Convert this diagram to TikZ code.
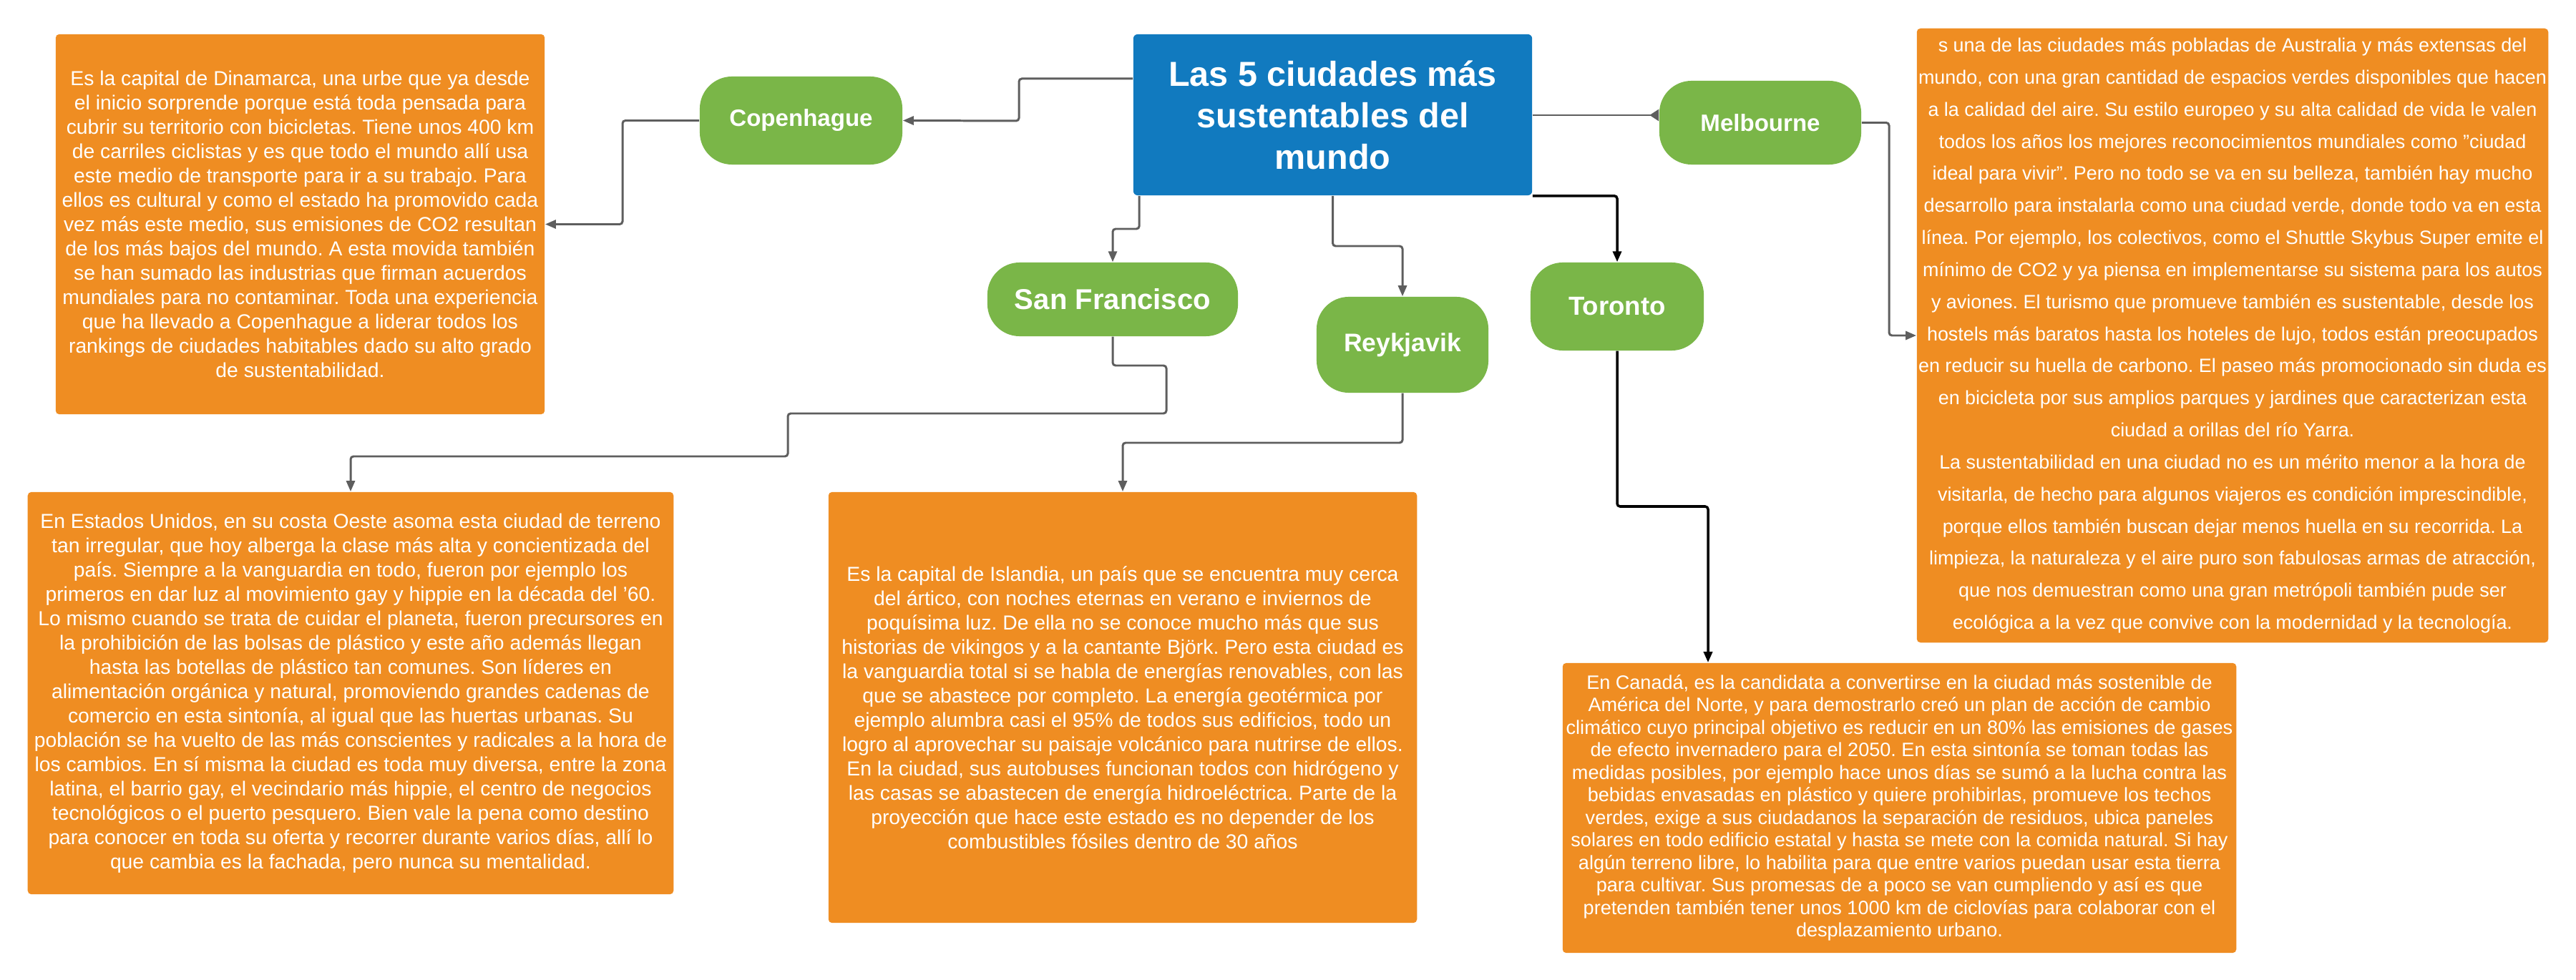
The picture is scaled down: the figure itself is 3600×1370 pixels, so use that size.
\documentclass[tikz,border=0pt]{standalone}
\usepackage{fontspec}
\setmainfont{Liberation Sans}
\usetikzlibrary{arrows.meta}
\frenchspacing

\definecolor{boxorange}{RGB}{239,141,34}
\definecolor{citygreen}{RGB}{122,182,72}
\definecolor{titleblue}{RGB}{17,122,191}
\definecolor{linkgray}{RGB}{94,94,94}

\tikzset{
  textbox/.style={fill=boxorange, rounded corners=0.05cm, text=white, align=center,
    inner sep=0pt, font=\fontsize{8.05}{9.67}\selectfont},
  city/.style={fill=citygreen, rounded corners=0.45cm, text=white, inner sep=0pt},
  link/.style={draw=linkgray, line width=0.85pt, rounded corners=0.04cm,
    -{Triangle[length=0.15cm,width=0.12cm]}},
}

\begin{document}
\begin{tikzpicture}[x=0.01cm,y=-0.01cm]
\useasboundingbox (0,0) rectangle (3600,1370);
\fill[white] (0,0) rectangle (3600,1370);

% central topic
\node[fill=titleblue, rounded corners=0.06cm, text=white, align=center, inner sep=0pt,
  minimum width=5.57cm, minimum height=2.25cm,
  font=\bfseries\fontsize{13.8}{16.5}\selectfont] (title) at (1862.5,160.5)
  {Las 5 ciudades más\\sustentables del\\mundo};

% cities
\node[city, minimum width=2.83cm, minimum height=1.23cm,
  font=\bfseries\fontsize{9.4}{11}\selectfont] (cph) at (1119.5,168.5) {Copenhague};
\node[city, minimum width=2.82cm, minimum height=1.17cm,
  font=\bfseries\fontsize{9.4}{11}\selectfont] (mel) at (2460,171.5) {Melbourne};
\node[city, minimum width=3.50cm, minimum height=1.03cm,
  font=\bfseries\fontsize{11.4}{13}\selectfont] (sfo) at (1555,418.5) {San Francisco};
\node[city, minimum width=2.40cm, minimum height=1.34cm,
  font=\bfseries\fontsize{10.1}{12}\selectfont] (rey) at (1960,482) {Reykjavik};
\node[city, minimum width=2.42cm, minimum height=1.23cm,
  font=\bfseries\fontsize{10.4}{12}\selectfont] (tor) at (2260,428.5) {Toronto};

% descriptions
\node[textbox, minimum width=6.83cm, minimum height=5.31cm] (cphtxt) at (419.5,313.5)
  {Es la capital de Dinamarca, una urbe que ya desde\\
   el inicio sorprende porque está toda pensada para\\
   cubrir su territorio con bicicletas. Tiene unos 400 km\\
   de carriles ciclistas y es que todo el mundo allí usa\\
   este medio de transporte para ir a su trabajo. Para\\
   ellos es cultural y como el estado ha promovido cada\\
   vez más este medio, sus emisiones de CO2 resultan\\
   de los más bajos del mundo. A esta movida también\\
   se han sumado las industrias que firman acuerdos\\
   mundiales para no contaminar. Toda una experiencia\\
   que ha llevado a Copenhague a liderar todos los\\
   rankings de ciudades habitables dado su alto grado\\
   de sustentabilidad.};

\node[textbox, minimum width=8.82cm, minimum height=8.58cm,
  font=\fontsize{7.65}{12.75}\selectfont] (meltxt) at (3120,469)
  {s una de las ciudades más pobladas de Australia y más extensas del\\
   mundo, con una gran cantidad de espacios verdes disponibles que hacen\\
   a la calidad del aire. Su estilo europeo y su alta calidad de vida le valen\\
   todos los años los mejores reconocimientos mundiales como "ciudad\\
   ideal para vivir". Pero no todo se va en su belleza, también hay mucho\\
   desarrollo para instalarla como una ciudad verde, donde todo va en esta\\
   línea. Por ejemplo, los colectivos, como el Shuttle Skybus Super emite el\\
   mínimo de CO2 y ya piensa en implementarse su sistema para los autos\\
   y aviones. El turismo que promueve también es sustentable, desde los\\
   hostels más baratos hasta los hoteles de lujo, todos están preocupados\\
   en reducir su huella de carbono. El paseo más promocionado sin duda es\\
   en bicicleta por sus amplios parques y jardines que caracterizan esta\\
   ciudad a orillas del río Yarra.\\
   La sustentabilidad en una ciudad no es un mérito menor a la hora de\\
   visitarla, de hecho para algunos viajeros es condición imprescindible,\\
   porque ellos también buscan dejar menos huella en su recorrida. La\\
   limpieza, la naturaleza y el aire puro son fabulosas armas de atracción,\\
   que nos demuestran como una gran metrópoli también pude ser\\
   ecológica a la vez que convive con la modernidad y la tecnología.};

\node[textbox, minimum width=9.02cm, minimum height=5.62cm] (sfotxt) at (490,969)
  {En Estados Unidos, en su costa Oeste asoma esta ciudad de terreno\\
   tan irregular, que hoy alberga la clase más alta y concientizada del\\
   país. Siempre a la vanguardia en todo, fueron por ejemplo los\\
   primeros en dar luz al movimiento gay y hippie en la década del '60.\\
   Lo mismo cuando se trata de cuidar el planeta, fueron precursores en\\
   la prohibición de las bolsas de plástico y este año además llegan\\
   hasta las botellas de plástico tan comunes. Son líderes en\\
   alimentación orgánica y natural, promoviendo grandes cadenas de\\
   comercio en esta sintonía, al igual que las huertas urbanas. Su\\
   población se ha vuelto de las más conscientes y radicales a la hora de\\
   los cambios. En sí misma la ciudad es toda muy diversa, entre la zona\\
   latina, el barrio gay, el vecindario más hippie, el centro de negocios\\
   tecnológicos o el puerto pesquero. Bien vale la pena como destino\\
   para conocer en toda su oferta y recorrer durante varios días, allí lo\\
   que cambia es la fachada, pero nunca su mentalidad.};

\node[textbox, minimum width=8.22cm, minimum height=6.02cm] (reytxt) at (1569,989)
  {Es la capital de Islandia, un país que se encuentra muy cerca\\
   del ártico, con noches eternas en verano e inviernos de\\
   poquísima luz. De ella no se conoce mucho más que sus\\
   historias de vikingos y a la cantante Björk. Pero esta ciudad es\\
   la vanguardia total si se habla de energías renovables, con las\\
   que se abastece por completo. La energía geotérmica por\\
   ejemplo alumbra casi el 95\% de todos sus edificios, todo un\\
   logro al aprovechar su paisaje volcánico para nutrirse de ellos.\\
   En la ciudad, sus autobuses funcionan todos con hidrógeno y\\
   las casas se abastecen de energía hidroeléctrica. Parte de la\\
   proyección que hace este estado es no depender de los\\
   combustibles fósiles dentro de 30 años};

\node[textbox, minimum width=9.41cm, minimum height=4.05cm,
  font=\fontsize{7.7}{8.96}\selectfont] (tortxt) at (2654.5,1129.5)
  {En Canadá, es la candidata a convertirse en la ciudad más sostenible de\\
   América del Norte, y para demostrarlo creó un plan de acción de cambio\\
   climático cuyo principal objetivo es reducir en un 80\% las emisiones de gases\\
   de efecto invernadero para el 2050. En esta sintonía se toman todas las\\
   medidas posibles, por ejemplo hace unos días se sumó a la lucha contra las\\
   bebidas envasadas en plástico y quiere prohibirlas, promueve los techos\\
   verdes, exige a sus ciudadanos la separación de residuos, ubica paneles\\
   solares en todo edificio estatal y hasta se mete con la comida natural. Si hay\\
   algún terreno libre, lo habilita para que entre varios puedan usar esta tierra\\
   para cultivar. Sus promesas de a poco se van cumpliendo y así es que\\
   pretenden también tener unos 1000 km de ciclovías para colaborar con el\\
   desplazamiento urbano.};

% connectors
\draw[link] (title.west |- 0,110) -| (1424,169) -- (cph.east);
\draw[link] (cph.west) -| (870,313.5) -- (cphtxt.east);
\draw[link, -{Triangle[reversed,length=0.13cm,width=0.16cm]}] (title.east |- 0,161) -- (mel.west |- 0,161);
\draw[link] (mel.east) -| (2640,469) -- (meltxt.west);
\draw[link] ([xshift=0.09cm]title.south west) |- (1555,320) -- (sfo.north);
\draw[link] (title.south) |- (1960,344) -- (rey.north);
\draw[link, draw=black, line width=1pt] (title.south east) -| (tor.north);
\draw[link] (sfo.south) |- (1630,511) |- (1101,578) |- (490,638) -- (sfotxt.north);
\draw[link] (rey.south) |- (1569,619) -- (reytxt.north);
\draw[link, draw=black, line width=1pt] (tor.south) |- (2387,708) -- (tortxt.north -| 2387,0);
\end{tikzpicture}
\end{document}
